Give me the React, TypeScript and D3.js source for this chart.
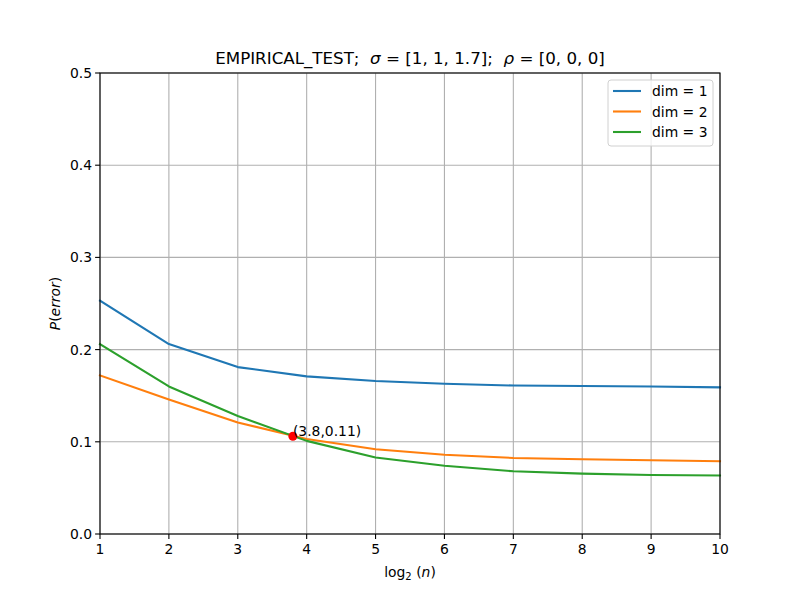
import * as d3 from "d3";

const xs = [1, 2, 3, 4, 5, 6, 7, 8, 9, 10];
const dim1 = [0.253, 0.206, 0.181, 0.171, 0.166, 0.163, 0.161, 0.1605, 0.160, 0.159];
const dim2 = [0.172, 0.146, 0.121, 0.103, 0.092, 0.086, 0.0825, 0.081, 0.080, 0.079];
const dim3 = [0.206, 0.160, 0.128, 0.101, 0.083, 0.074, 0.068, 0.0655, 0.064, 0.0635];
const xTicks = [1, 2, 3, 4, 5, 6, 7, 8, 9, 10];
const yTicks = [0, 0.1, 0.2, 0.3, 0.4, 0.5];
const marker = { x: 3.8, y: 0.106 };

const series = [
  { label: "dim = 1", values: dim1, color: "#1f77b4" },
  { label: "dim = 2", values: dim2, color: "#ff7f0e" },
  { label: "dim = 3", values: dim3, color: "#2ca02c" },
];

const W = 800;
const H = 600;
const m = { left: 100, right: 80, top: 73, bottom: 66 };
const font = "DejaVu Sans, sans-serif";

export default function App() {
  const x = d3.scaleLinear().domain([1, 10]).range([m.left, W - m.right]);
  const y = d3.scaleLinear().domain([0, 0.5]).range([H - m.bottom, m.top]);
  const line = d3
    .line<number>()
    .x((_, i) => x(xs[i]))
    .y((d) => y(d));

  return (
    <svg width={W} height={H} style={{ position: "absolute", left: 0, top: 0, background: "#fff" }} fontFamily={font}>
      <rect width={W} height={H} fill="#fff" />
      {/* grid */}
      {xTicks.map((t) => (
        <line key={"gx" + t} x1={x(t)} x2={x(t)} y1={y(0)} y2={y(0.5)} stroke="#b0b0b0" strokeWidth={1.1} />
      ))}
      {yTicks.map((t) => (
        <line key={"gy" + t} x1={x(1)} x2={x(10)} y1={y(t)} y2={y(t)} stroke="#b0b0b0" strokeWidth={1.1} />
      ))}
      {series.map((s) => (
        <path key={s.label} d={line(s.values) || undefined} fill="none" stroke={s.color} strokeWidth={2.1} strokeLinejoin="round" strokeLinecap="square" />
      ))}
      <circle cx={x(marker.x)} cy={y(marker.y)} r={4.5} fill="red" />
      <text x={x(marker.x)} y={y(marker.y) - 0.5} fontSize={13.9} fill="#000">
        ({marker.x},{marker.y.toFixed(2)})
      </text>
      {/* frame */}
      <rect x={x(1)} y={y(0.5)} width={x(10) - x(1)} height={y(0) - y(0.5)} fill="none" stroke="#000" strokeWidth={1.1} />
      {/* ticks */}
      {xTicks.map((t) => (
        <g key={"tx" + t}>
          <line x1={x(t)} x2={x(t)} y1={y(0)} y2={y(0) + 4.9} stroke="#000" strokeWidth={1.1} />
          <text x={x(t)} y={y(0) + 20} textAnchor="middle" fontSize={13.9}>{t}</text>
        </g>
      ))}
      {yTicks.map((t) => (
        <g key={"ty" + t}>
          <line x1={x(1) - 4.9} x2={x(1)} y1={y(t)} y2={y(t)} stroke="#000" strokeWidth={1.1} />
          <text x={x(1) - 8} y={y(t) + 5} textAnchor="end" fontSize={13.9}>{t.toFixed(1)}</text>
        </g>
      ))}
      {/* title */}
      <text x={(x(1) + x(10)) / 2} y={64} textAnchor="middle" fontSize={16.7} style={{ whiteSpace: "pre" }}>
        {"EMPIRICAL_TEST;  "}<tspan fontStyle="italic">σ</tspan>{" = [1, 1, 1.7];  "}<tspan fontStyle="italic">ρ</tspan>{" = [0, 0, 0]"}
      </text>
      {/* axis labels */}
      <text x={(x(1) + x(10)) / 2} y={577} textAnchor="middle" fontSize={13.9} style={{ whiteSpace: "pre" }}>
        log<tspan fontSize={10} dy={3}>2</tspan><tspan dy={-3}>{" ("}</tspan><tspan fontStyle="italic">n</tspan>)
      </text>
      <text transform={`translate(60,${(y(0) + y(0.5)) / 2}) rotate(-90)`} textAnchor="middle" fontSize={13.9}>
        <tspan fontStyle="italic">P</tspan>(<tspan fontStyle="italic">error</tspan>)
      </text>
      {/* legend */}
      <g transform="translate(608,80)">
        <rect width={105} height={66} rx={3} fill="#fff" fillOpacity={0.8} stroke="#d0d0d0" strokeWidth={1} />
        {series.map((s, i) => (
          <g key={s.label} transform={`translate(0,${11 + i * 20.5})`}>
            <line x1={5} x2={33} y1={0} y2={0} stroke={s.color} strokeWidth={2.1} />
            <text x={44} y={5} fontSize={13.9}>{s.label}</text>
          </g>
        ))}
      </g>
    </svg>
  );
}
